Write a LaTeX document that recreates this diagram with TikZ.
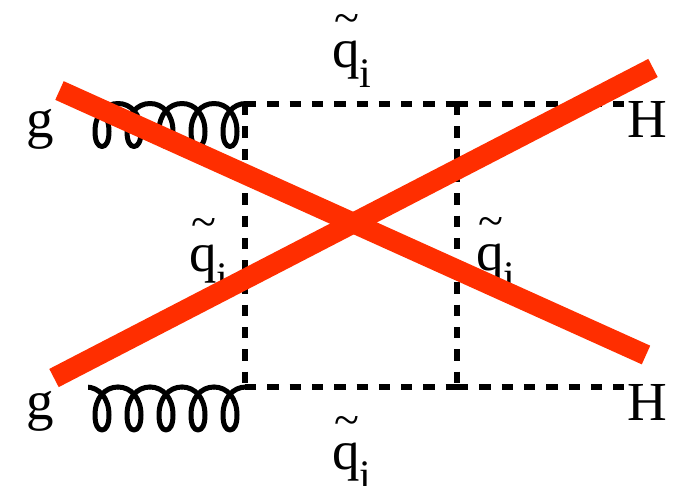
\documentclass[tikz,border=0pt]{standalone}
\usepackage{fontspec}
\setmainfont{Liberation Serif}
\newcommand{\qlabel}{\makebox[0pt][l]{\hspace{2.5pt}\raisebox{34pt}{\fontsize{46}{46}\selectfont\char`\~}}q\raisebox{-20pt}{\fontsize{42}{42}\selectfont i}}
\newcommand{\gluonarc}[1]{(#1-16,0) .. controls (#1-3,0) and (#1+7,11) .. (#1+7,28) .. controls (#1+7,38) and (#1+4,43) .. (#1,43) .. controls (#1-4,43) and (#1-7,38) .. (#1-7,28) .. controls (#1-7,11) and (#1+3,0) .. (#1+16,0)}
\definecolor{crossred}{HTML}{FF2E00}
\tikzset{
  lab/.style={font=\fontsize{55}{55}\selectfont, inner sep=0pt, anchor=base west, text=black},
  scalar/.style={line width=5.5pt, dash pattern=on 11.3pt off 11pt, black},
  gluon/.style={line width=5pt, black, line cap=round, line join=round},
  cross/.style={line width=20.5pt, crossred},
}
\begin{document}
\begin{tikzpicture}[x=1pt,y=-1pt]
\useasboundingbox (0,0) rectangle (684,485);
\coordinate (v1) at (245,104);
\coordinate (v2) at (457,104);
\coordinate (v3) at (245,387);
\coordinate (v4) at (457,387);
\coordinate (h1) at (625,104);
\coordinate (h2) at (625,387);
\draw[scalar] (v1) -- (v2);
\draw[scalar] (v2) -- (h1);
\draw[scalar] (v3) -- (v4);
\draw[scalar] (v4) -- (h2);
\draw[scalar] (v1) -- (v3);
\draw[scalar] (v2) -- (v4);
\foreach \yy in {103.5,387}{
  \begin{scope}[shift={(0,\yy)}]
    \clip (88,-10) rectangle (250,60);
    \foreach \c in {102,134,166,198,230}{
      \draw[gluon] \gluonarc{\c};
    }
  \end{scope}
}
\node[lab] (g1) at (26,137) {g};
\node[lab] (g2) at (26,419) {g};
\node[lab] (H1) at (627,137) {H};
\node[lab] (H2) at (627,420) {H};
\node[lab] (qt) at (332,67) {\qlabel};
\node[lab] (qb) at (332,469) {\qlabel};
\node[lab] (ql) at (189,271) {\qlabel};
\node[lab] (qr) at (476,270) {\qlabel};
\coordinate (c1a) at (59.5,90.5);
\coordinate (c1b) at (646,355);
\coordinate (c2a) at (54,378);
\coordinate (c2b) at (653,68);
\draw[cross] (c1a) -- (c1b);
\draw[cross] (c2a) -- (c2b);
\end{tikzpicture}
\end{document}
